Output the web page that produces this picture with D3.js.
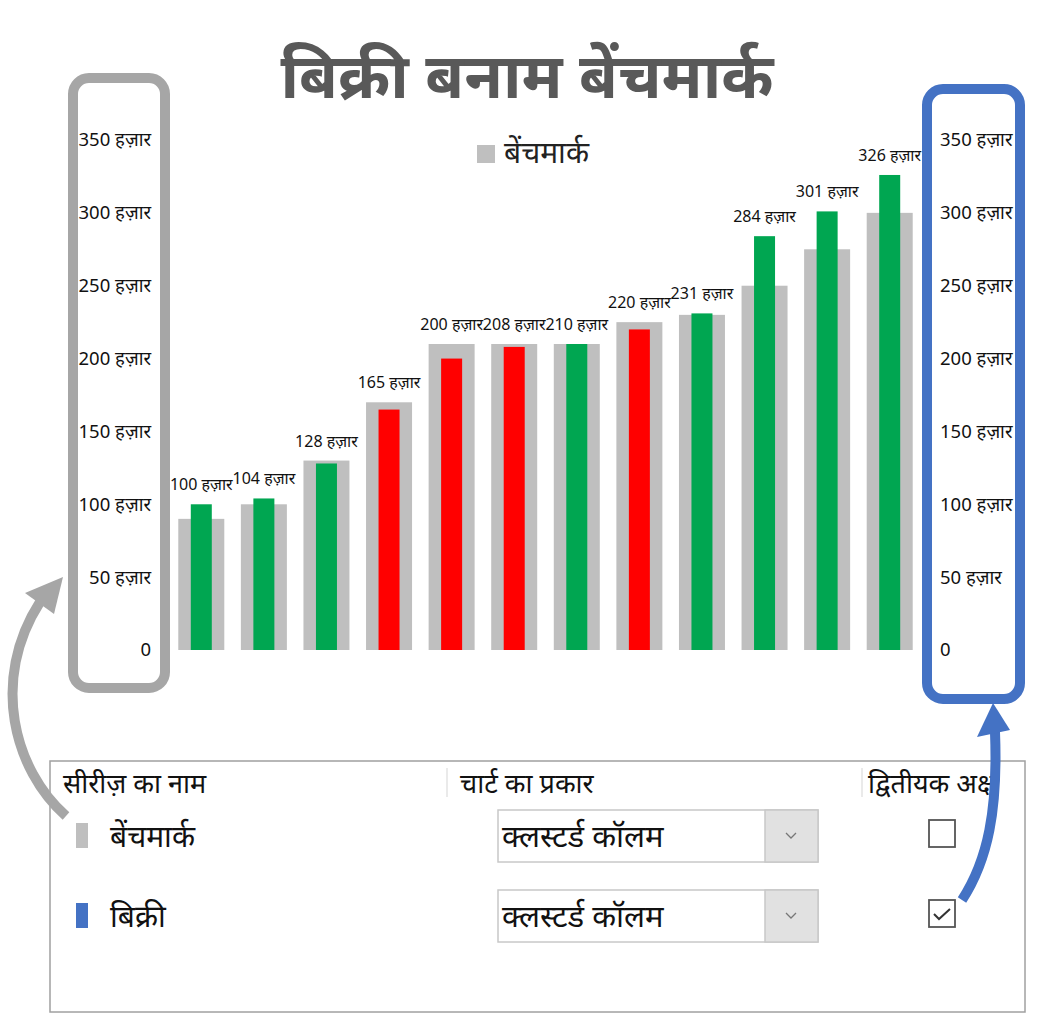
<!DOCTYPE html>
<html>
<head>
<meta charset="utf-8">
<script src="https://cdn.jsdelivr.net/npm/d3@7"></script>
<style>
  body { margin: 0; background: #fff; }
  svg { display: block; font-family: "Noto Sans", "Noto Sans Devanagari", sans-serif; }
</style>
</head>
<body>
<svg id="chart" width="1041" height="1024"></svg>
<script>
// data (values in thousands)
var categories = ['1', '2', '3', '4', '5', '6', '7', '8', '9', '10', '11', '12'];
var benchmark = [90, 100, 130, 170, 210, 210, 210, 225, 230, 250, 275, 300];
var sales = [100, 104, 128, 165, 200, 208, 210, 220, 231, 284, 301, 326];
// colour of each sales column as shown (true = green, false = red)
var onTarget = [true, true, true, false, false, false, true, false, true, true, true, true];
var yTicks = [0, 50, 100, 150, 200, 250, 300, 350];
var seriesNames = ['बेंचमार्क', 'बिक्री'];
var unit = ' हज़ार';

var svg = d3.select('#chart');

var x = d3.scaleBand()
    .domain(categories)
    .range([170, 921])
    .paddingInner(0.265)
    .paddingOuter(0.1325);

var y = d3.scaleLinear()
    .domain([0, 350])
    .range([650, 140]);

var inner = 21; // width of the sales column

// title
svg.append('text')
    .attr('x', 527)
    .attr('y', 98)
    .attr('text-anchor', 'middle')
    .style('font-size', '63px')
    .style('font-weight', 'bold')
    .style('fill', '#595959')
    .text('बिक्री बनाम बेंचमार्क');

// legend
svg.append('rect')
    .attr('x', 477).attr('y', 145)
    .attr('width', 18).attr('height', 18)
    .style('fill', '#bfbfbf');
svg.append('text')
    .attr('x', 504).attr('y', 163)
    .style('font-size', '30px')
    .style('fill', '#222')
    .text(seriesNames[0]);

// highlight boxes round the two axes
svg.append('rect')
    .attr('x', 73).attr('y', 78)
    .attr('width', 92).attr('height', 610)
    .attr('rx', 16)
    .style('fill', 'none')
    .style('stroke', '#a6a6a6')
    .style('stroke-width', 10);
svg.append('rect')
    .attr('x', 927).attr('y', 89)
    .attr('width', 93).attr('height', 610)
    .attr('rx', 16)
    .style('fill', 'none')
    .style('stroke', '#4472c4')
    .style('stroke-width', 10);

function tickText(d) { return d === 0 ? '0' : d + unit; }

// primary axis (left) and secondary axis (right)
var leftAxis = d3.axisLeft(y).tickValues(yTicks).tickSize(0).tickPadding(0).tickFormat(tickText);
var rightAxis = d3.axisRight(y).tickValues(yTicks).tickSize(0).tickPadding(0).tickFormat(tickText);

var gl = svg.append('g').attr('transform', 'translate(151,0)').call(leftAxis);
var gr = svg.append('g').attr('transform', 'translate(940,0)').call(rightAxis);
[gl, gr].forEach(function (g) {
    g.select('.domain').remove();
    g.selectAll('text')
        .style('font-family', '"Noto Sans", "Noto Sans Devanagari", sans-serif')
        .style('font-size', '18.5px')
        .style('fill', '#111');
});

// benchmark columns
svg.append('g').selectAll('rect')
    .data(benchmark)
    .enter().append('rect')
    .attr('x', function (d, i) { return x(categories[i]); })
    .attr('y', function (d) { return y(d); })
    .attr('width', x.bandwidth())
    .attr('height', function (d) { return y(0) - y(d); })
    .style('fill', '#bfbfbf');

// sales columns
svg.append('g').selectAll('rect')
    .data(sales)
    .enter().append('rect')
    .attr('x', function (d, i) { return x(categories[i]) + (x.bandwidth() - inner) / 2; })
    .attr('y', function (d) { return y(d); })
    .attr('width', inner)
    .attr('height', function (d) { return y(0) - y(d); })
    .style('fill', function (d, i) { return onTarget[i] ? '#00a651' : '#ff0000'; });

// data labels
svg.append('g').selectAll('text')
    .data(sales)
    .enter().append('text')
    .attr('x', function (d, i) { return x(categories[i]) + x.bandwidth() / 2; })
    .attr('y', function (d, i) { return y(Math.max(d, benchmark[i])) - 14; })
    .attr('text-anchor', 'middle')
    .style('font-size', '16px')
    .style('fill', '#111')
    .text(function (d) { return d + unit; });

// format dialog panel
var panel = svg.append('g');
panel.append('rect')
    .attr('x', 50).attr('y', 761)
    .attr('width', 975).attr('height', 251)
    .style('fill', '#fff')
    .style('stroke', '#a0a0a0')
    .style('stroke-width', 1.5);

[447, 862].forEach(function (sx) {
    panel.append('line')
        .attr('x1', sx).attr('x2', sx)
        .attr('y1', 768).attr('y2', 797)
        .style('stroke', '#e3e3e3')
        .style('stroke-width', 1.5);
});

var headers = [['सीरीज़ का नाम', 63], ['चार्ट का प्रकार', 460], ['द्वितीयक अक्ष', 868]];
headers.forEach(function (h) {
    panel.append('text')
        .attr('x', h[1]).attr('y', 793)
        .style('font-size', '27px')
        .style('fill', '#111')
        .text(h[0]);
});

var rows = [
    { name: seriesNames[0], color: '#bfbfbf', top: 810, checked: false },
    { name: seriesNames[1], color: '#4472c4', top: 890, checked: true }
];

rows.forEach(function (r) {
    panel.append('rect')
        .attr('x', 76).attr('y', r.top + 13)
        .attr('width', 12).attr('height', 25)
        .style('fill', r.color);
    panel.append('text')
        .attr('x', 110).attr('y', r.top + 37)
        .style('font-size', '30px')
        .style('fill', '#111')
        .text(r.name);

    // dropdown
    panel.append('rect')
        .attr('x', 498).attr('y', r.top)
        .attr('width', 320).attr('height', 52)
        .style('fill', '#fff')
        .style('stroke', '#c8c8c8')
        .style('stroke-width', 1.5);
    panel.append('rect')
        .attr('x', 765).attr('y', r.top)
        .attr('width', 53).attr('height', 52)
        .style('fill', '#e1e1e1')
        .style('stroke', '#c8c8c8')
        .style('stroke-width', 1.5);
    panel.append('path')
        .attr('d', 'M786 ' + (r.top + 23) + ' l5 5 l5 -5')
        .style('fill', 'none')
        .style('stroke', '#777')
        .style('stroke-width', 1.3);
    panel.append('text')
        .attr('x', 502).attr('y', r.top + 37)
        .style('font-size', '31px')
        .style('fill', '#111')
        .text('क्लस्टर्ड कॉलम');

    // checkbox
    panel.append('rect')
        .attr('x', 929).attr('y', r.top + 10)
        .attr('width', 26).attr('height', 27)
        .style('fill', '#fff')
        .style('stroke', '#555')
        .style('stroke-width', 1.8);
    if (r.checked) {
        panel.append('path')
            .attr('d', 'M934 ' + (r.top + 24) + ' l5 5 l11 -10')
            .style('fill', 'none')
            .style('stroke', '#333')
            .style('stroke-width', 2);
    }
});

// arrows from the dialog to each axis
svg.append('path')
    .attr('d', 'M66 816 C14 770, -10 680, 40 602')
    .style('fill', 'none')
    .style('stroke', '#a6a6a6')
    .style('stroke-width', 10);
svg.append('path')
    .attr('d', 'M63 577 L25 593 L54 614 Z')
    .style('fill', '#a6a6a6');

svg.append('path')
    .attr('d', 'M962 900 C988 860, 998 810, 995 732')
    .style('fill', 'none')
    .style('stroke', '#4472c4')
    .style('stroke-width', 10);
svg.append('path')
    .attr('d', 'M993 703 L977 737 L1010 730 Z')
    .style('fill', '#4472c4');
</script>
</body>
</html>
